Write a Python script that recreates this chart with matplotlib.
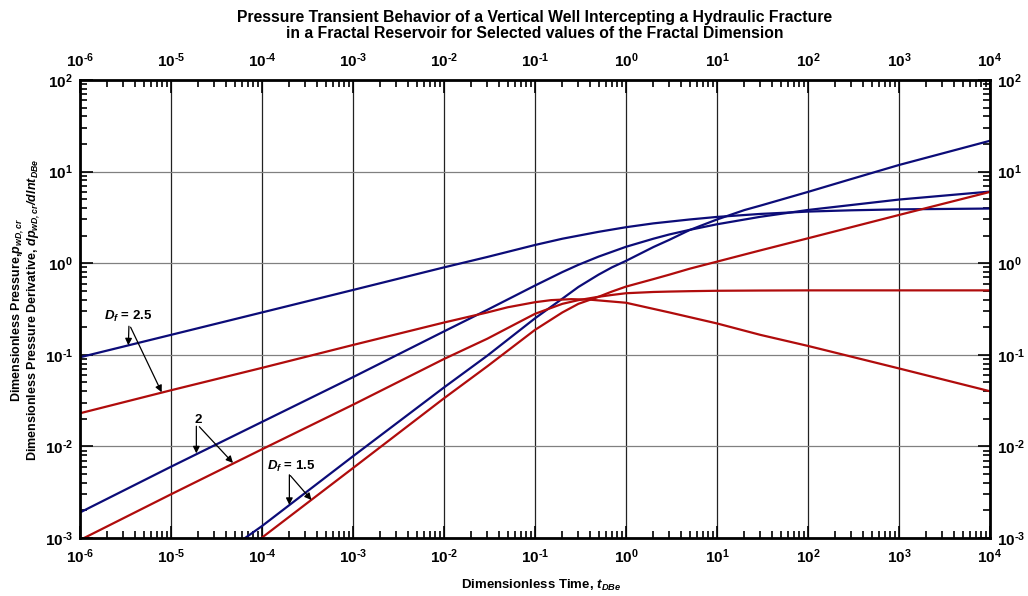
import numpy as np
import matplotlib
matplotlib.use("Agg")
import matplotlib.pyplot as plt
from matplotlib.ticker import FixedLocator, FuncFormatter, NullFormatter

plt.rcParams['font.family'] = ['Liberation Sans', 'DejaVu Sans']
plt.rcParams['font.weight'] = 'bold'
plt.rcParams['axes.unicode_minus'] = False
plt.rcParams['mathtext.fontset'] = 'custom'
plt.rcParams['mathtext.rm'] = 'Liberation Sans:bold'
plt.rcParams['mathtext.bf'] = 'Liberation Sans:bold'
plt.rcParams['mathtext.it'] = 'Liberation Sans:italic:bold'
plt.rcParams['mathtext.bfit'] = 'Liberation Sans:italic:bold'

# dimensionless time and curves

# D_f = 2.5
t_25 = [1e-6, 1e-5, 1e-4, 1e-3, 1e-2, 0.03, 0.1, 0.2, 0.5, 1, 2, 5, 10, 30, 100, 300, 1e3, 1e4]
p_25 = [0.094, 0.165, 0.29, 0.51, 0.90, 1.17, 1.58, 1.85, 2.2, 2.47, 2.72, 3.0, 3.2, 3.45, 3.66, 3.78, 3.87, 3.95]
t_d25 = [1e-6, 1e-5, 1e-4, 1e-3, 1e-2, 0.03, 0.05, 0.1, 0.15, 0.25, 0.4, 1, 3, 10, 30, 100, 1e3, 1e4]
d_25 = [0.023, 0.041, 0.072, 0.128, 0.225, 0.29, 0.33, 0.375, 0.395, 0.405, 0.40, 0.37, 0.29, 0.22, 0.165,
        0.125, 0.071, 0.040]

# D_f = 2
t_20 = [1e-6, 1e-5, 1e-4, 1e-3, 1e-2, 0.03, 0.06, 0.1, 0.2, 0.3, 0.5, 0.7, 1, 2, 3, 5, 10, 30, 100, 1e3, 1e4]
p_20 = [0.0019, 0.006, 0.0185, 0.057, 0.18, 0.31, 0.44, 0.57, 0.80, 0.96, 1.18, 1.33, 1.51, 1.85, 2.06, 2.31,
        2.66, 3.21, 3.81, 4.95, 6.05]
d_20 = [0.00095, 0.003, 0.0093, 0.0285, 0.09, 0.15, 0.215, 0.28, 0.36, 0.395, 0.43, 0.45, 0.47, 0.485, 0.49,
        0.495, 0.50, 0.503, 0.505, 0.505, 0.505]

# D_f = 1.5
t_15 = [5e-5, 1e-4, 1e-3, 1e-2, 0.03, 0.1, 0.2, 0.3, 0.5, 0.7, 1, 2, 3, 5, 10, 20, 30, 100, 300, 1e3, 1e4]
p_15 = [0.00083, 0.00135, 0.0078, 0.044, 0.098, 0.25, 0.41, 0.55, 0.75, 0.9, 1.06, 1.5, 1.8, 2.3, 3.0, 3.8,
        4.25, 6.0, 8.3, 11.8, 21.7]
t_d15 = [9e-5, 1e-4, 1e-3, 1e-2, 0.03, 0.1, 0.2, 0.3, 0.5, 0.7, 1, 2, 3, 5, 10, 30, 100, 1e3, 1e4]
d_15 = [0.00093, 0.00101, 0.0058, 0.0335, 0.075, 0.187, 0.29, 0.36, 0.43, 0.49, 0.555, 0.67, 0.75, 0.87,
        1.04, 1.38, 1.87, 3.36, 6.0]

x_decades = list(range(-6, 5))
y_decades = list(range(-3, 3))

blue = '#0c0c78'
red = '#b00c0c'

fig = plt.figure(figsize=(10.28, 5.96), dpi=100)
ax = fig.add_axes([0.0778, 0.0973, 0.8852, 0.7685])

ax.plot(t_25, p_25, color=blue, lw=1.6)
ax.plot(t_20, p_20, color=blue, lw=1.6)
ax.plot(t_15, p_15, color=blue, lw=1.6)
ax.plot(t_d25, d_25, color=red, lw=1.6)
ax.plot(t_20, d_20, color=red, lw=1.6)
ax.plot(t_d15, d_15, color=red, lw=1.6)

ax.set_xscale('log')
ax.set_yscale('log')
ax.set_xlim(1e-6, 1e4)
ax.set_ylim(1e-3, 1e2)


def dec_label(v, pos):
    e = round(np.log10(v))
    if e < 0:
        return r'$\mathbf{10}^{\text{-}\mathbf{%d}}$' % (-e)
    return r'$\mathbf{10}^{\mathbf{%d}}$' % e


fmt = FuncFormatter(dec_label)
for axis, dec in ((ax.xaxis, x_decades), (ax.yaxis, y_decades)):
    major = [10.0 ** d for d in dec]
    minor = [m * 10.0 ** d for d in dec[:-1] for m in range(2, 10)]
    axis.set_major_locator(FixedLocator(major))
    axis.set_minor_locator(FixedLocator(minor))
    axis.set_major_formatter(fmt)
    axis.set_minor_formatter(NullFormatter())

ax.tick_params(which='both', direction='in', top=True, right=True,
               labeltop=True, labelright=True, width=1.2)
ax.tick_params(which='major', length=9, labelsize=11, pad=7)
ax.tick_params(axis='y', which='major', pad=5)
ax.tick_params(which='minor', length=5)
for s in ax.spines.values():
    s.set_linewidth(2)

ax.grid(axis='x', which='major', color='#222222', lw=0.9)
ax.grid(axis='y', which='major', color='#808080', lw=0.9)

fig.text(0.5204, 0.971, 'Pressure Transient Behavior of a Vertical Well Intercepting a Hydraulic Fracture',
         ha='center', va='center', fontsize=11.3, weight='bold')
fig.text(0.5204, 0.944, 'in a Fractal Reservoir for Selected values of the Fractal Dimension',
         ha='center', va='center', fontsize=11.3, weight='bold')

fig.text(0.526, 0.018, r'Dimensionless Time, $\mathbfit{t_{DBe}}$', ha='center', va='center', fontsize=9.5)
fig.text(0.0175, 0.48, r'Dimensionless Pressure,$\mathbfit{p_{wD,cr}}$', rotation=90,
         ha='center', va='center', fontsize=9)
fig.text(0.0330, 0.48, r'Dimensionless Pressure Derivative, $\mathbfit{dp_{wD,cr}/dlnt_{DBe}}$', rotation=90,
         ha='center', va='center', fontsize=9)

arrow = dict(arrowstyle='-|>', color='k', lw=0.9, mutation_scale=10, shrinkA=0, shrinkB=0)

# D_f = 2.5
ax.text(3.4e-6, 0.265, r'$\mathbfit{D_f}$ = 2.5', ha='center', va='center', fontsize=9.5)
ax.annotate('', xy=(3.4e-6, 0.127), xytext=(3.45e-6, 0.205), arrowprops=arrow)
ax.annotate('', xy=(7.9e-6, 0.039), xytext=(3.6e-6, 0.2), arrowprops=arrow)

# D_f = 2
ax.text(1.98e-5, 0.0194, '2', ha='center', va='center', fontsize=9.5)
ax.annotate('', xy=(1.9e-5, 0.0084), xytext=(1.9e-5, 0.0166), arrowprops=arrow)
ax.annotate('', xy=(4.8e-5, 0.0066), xytext=(2.05e-5, 0.0164), arrowprops=arrow)

# D_f = 1.5
ax.text(2.08e-4, 0.0061, r'$\mathbfit{D_f}$ = 1.5', ha='center', va='center', fontsize=9.5)
ax.annotate('', xy=(2.0e-4, 0.0023), xytext=(2.0e-4, 0.0049), arrowprops=arrow)
ax.annotate('', xy=(3.5e-4, 0.0026), xytext=(2.05e-4, 0.0048), arrowprops=arrow)

fig.savefig('out.png', dpi=100)
